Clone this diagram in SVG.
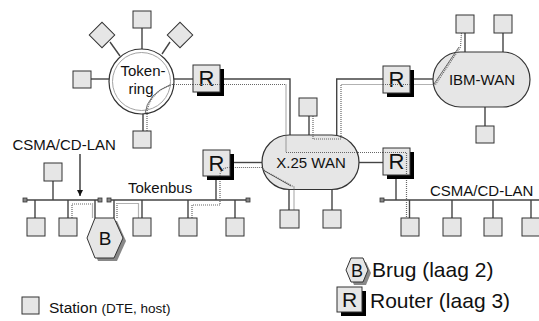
<svg xmlns="http://www.w3.org/2000/svg" width="539" height="321" viewBox="0 0 539 321">
<style>
text{font-family:"Liberation Sans",Arial,sans-serif;fill:#111}
.st{fill:#e6e6e6;stroke:#333;stroke-width:1}
.ln{stroke:#444;stroke-width:1.4;fill:none}
.dt{stroke:#666;stroke-width:1.2;stroke-dasharray:1 1;fill:none}
.thin{stroke:#444;stroke-width:0.8;fill:none}
.term{fill:#888;stroke:#333;stroke-width:0.8}
.sh{fill:#000}
.wan{fill:#e6e6e6;stroke:#333;stroke-width:1.2}
.lbl{font-size:15px}
.rt{font-size:22px;text-anchor:middle}
</style>
<defs>
<marker id="ah" viewBox="0 0 10 10" refX="10" refY="5" markerWidth="6" markerHeight="6" orient="auto" markerUnits="userSpaceOnUse"><path d="M0,0 L10,5 L0,10 z" fill="#111"/></marker>
</defs>

<g id="connectors">
<line class="ln" x1="142" y1="28" x2="142" y2="49"/>
<line class="ln" x1="91" y1="79" x2="109" y2="79"/>
<line class="ln" x1="110" y1="42" x2="120" y2="56"/>
<line class="ln" x1="170" y1="42" x2="162" y2="54"/>
<line class="ln" x1="143" y1="114" x2="143" y2="131"/>
<line class="ln" x1="174" y1="79" x2="193" y2="79"/>
<polyline class="ln" points="220,79 290,79 290,135"/>
<polyline class="ln" points="336.7,135.5 336.7,79 383,79"/>
<line class="ln" x1="410" y1="79" x2="433" y2="79"/>
<line class="ln" x1="465" y1="33" x2="465" y2="52"/>
<line class="ln" x1="503" y1="33" x2="503" y2="52"/>
<line class="ln" x1="485" y1="107" x2="485" y2="126"/>
<line class="ln" x1="309" y1="116" x2="309" y2="135"/>
<line class="ln" x1="289" y1="189" x2="289" y2="210"/>
<line class="ln" x1="332" y1="189" x2="332" y2="210"/>
<line class="ln" x1="359" y1="162.5" x2="383" y2="162.5"/>
<line class="ln" x1="230" y1="162.5" x2="262" y2="162.5"/>
<line class="ln" x1="216" y1="176" x2="216" y2="200"/>
<line class="ln" x1="396" y1="175" x2="396" y2="200"/>
<line class="ln" x1="25" y1="200" x2="100" y2="200"/>
<line class="ln" x1="109" y1="200" x2="248" y2="200"/>
<line class="ln" x1="382" y1="200" x2="539" y2="200"/>
<line class="ln" x1="53" y1="181" x2="53" y2="200"/>
<line class="ln" x1="35" y1="200" x2="35" y2="218"/>
<line class="ln" x1="68" y1="200" x2="68" y2="218"/>
<line class="ln" x1="95" y1="200" x2="95" y2="218"/>
<line class="ln" x1="114" y1="200" x2="114" y2="218"/>
<line class="ln" x1="142" y1="200" x2="142" y2="218"/>
<line class="ln" x1="188" y1="200" x2="188" y2="218"/>
<line class="ln" x1="235" y1="200" x2="235" y2="218"/>
<line class="ln" x1="409.5" y1="200" x2="409.5" y2="218"/>
<line class="ln" x1="452" y1="200" x2="452" y2="218"/>
<line class="ln" x1="493" y1="200" x2="493" y2="218"/>
<line class="ln" x1="531" y1="200" x2="531" y2="218"/>
<line x1="80" y1="154" x2="80" y2="196" stroke="#111" stroke-width="1.2" marker-end="url(#ah)"/>
</g>

<g id="nodes-shapes">
<g id="tokenring">
<circle cx="141.5" cy="81.5" r="32.5" fill="#fff" stroke="#333" stroke-width="1.2"/>
<circle cx="141.5" cy="81.5" r="29" fill="none" stroke="#999" stroke-width="0.9"/>
<text class="lbl" x="143" y="76" text-anchor="middle">Token-</text>
<text class="lbl" x="141" y="94" text-anchor="middle">ring</text>
</g>
<g id="x25wan">
<rect class="wan" x="262" y="135" width="97" height="54.5" rx="27.25"/>
<text class="lbl" x="311" y="168" text-anchor="middle">X.25 WAN</text>
</g>
<g id="ibmwan">
<rect class="wan" x="433" y="52" width="97" height="55" rx="27.5"/>
<text class="lbl" x="482" y="85" text-anchor="middle">IBM-WAN</text>
</g>
</g>

<g id="paths">
<path class="thin" d="M145,114 Q147,94 170,85"/>
<path class="dt" d="M147,131 L147,112 Q150,92 172,84.5"/>
<polyline class="dt" points="172,84.5 286,84.5 286,152.5 406.5,152.5 406.5,218"/>
<polyline class="dt" points="313,116 313,139 341,139 341,84.5 435.5,84.5 460.5,47 461.5,33"/>
<line class="thin" x1="434" y1="84" x2="459" y2="47"/>
<polyline class="dt" points="192,218 192,205 220,205 220,174"/>
<path class="dt" d="M220,174 Q222,167 230,167.5 L262,167.5 L265,171 L294,187 L294,210"/>
<line class="thin" x1="263" y1="170" x2="291" y2="186"/>
<polyline class="dt" points="72,218 72,204 92.5,204 92.5,218"/>
<polyline class="dt" points="117,218 117,203.5 138.5,203.5 138.5,218"/>
</g>

<g id="terminators">
<rect class="term" x="23" y="198" width="4" height="4"/>
<rect class="term" x="98" y="198" width="4" height="4"/>
<rect class="term" x="107" y="198" width="4" height="4"/>
<rect class="term" x="246" y="198" width="4" height="4"/>
<rect class="term" x="380" y="198" width="4" height="4"/>
</g>

<g id="stations">
<rect id="s-ring-top" class="st" x="133" y="11" width="18" height="17"/>
<rect id="s-ring-left" class="st" x="73" y="71" width="18" height="17"/>
<rect id="s-ring-bot" class="st" x="133" y="131" width="18" height="17"/>
<rect id="s-ring-dl" class="st" x="93" y="26" width="18" height="18" transform="rotate(45 102 35)"/>
<rect id="s-ring-dr" class="st" x="171" y="26" width="18" height="18" transform="rotate(45 180 35)"/>
<rect id="s-ibm1" class="st" x="456" y="15" width="18" height="18"/>
<rect id="s-ibm2" class="st" x="494" y="15" width="18" height="18"/>
<rect id="s-ibm3" class="st" x="476" y="126" width="18" height="17"/>
<rect id="s-x25-top" class="st" x="299" y="98" width="18" height="18"/>
<rect id="s-x25-b1" class="st" x="280" y="210" width="19" height="18"/>
<rect id="s-x25-b2" class="st" x="323" y="210" width="18" height="18"/>
<rect id="s-lan-top" class="st" x="44" y="163" width="18" height="18"/>
<rect id="s-lan1" class="st" x="27" y="218" width="18" height="18"/>
<rect id="s-lan2" class="st" x="59" y="218" width="18" height="18"/>
<rect id="s-tb1" class="st" x="133" y="218" width="18" height="18"/>
<rect id="s-tb2" class="st" x="179" y="218" width="18" height="18"/>
<rect id="s-tb3" class="st" x="226" y="218" width="18" height="18"/>
<rect id="s-rl1" class="st" x="401" y="218" width="18" height="18"/>
<rect id="s-rl2" class="st" x="443" y="218" width="18" height="18"/>
<rect id="s-rl3" class="st" x="484" y="218" width="18" height="18"/>
<rect id="s-rl4" class="st" x="522" y="218" width="18" height="18"/>
</g>

<g id="router-r1">
<rect class="sh" x="197" y="69" width="27" height="27"/>
<rect class="st" x="193" y="65" width="27" height="27"/>
<text class="rt" x="206.5" y="86">R</text>
<path class="dt" d="M193,84.5 L220,84.5"/>
</g>
<g id="router-r2">
<rect class="sh" x="387" y="70" width="27" height="27"/>
<rect class="st" x="383" y="66" width="27" height="27"/>
<text class="rt" x="396.5" y="87">R</text>
<path class="dt" d="M383,84.5 L410,84.5"/>
</g>
<g id="router-r3">
<rect class="sh" x="207" y="154" width="27" height="26"/>
<rect class="st" x="203" y="150" width="27" height="26"/>
<text class="rt" x="216.5" y="171">R</text>
<path class="dt" d="M220,176 L220,174 Q222,167 230,167.5"/>
</g>
<g id="router-r4">
<rect class="sh" x="387" y="152" width="27" height="27"/>
<rect class="st" x="383" y="148" width="27" height="27"/>
<text class="rt" x="396.5" y="169">R</text>
<path class="dt" d="M383,152.5 L406.5,152.5 L406.5,175"/>
</g>

<g id="bridge">
<polygon points="90,241 98,221 117,221 126,241 117,261 98,261" fill="#888"/>
<polygon class="st" points="87,238 95,218 114,218 123,238 114,258 95,258"/>
<text x="105" y="245" font-size="19" text-anchor="middle">B</text>
</g>

<g id="labels">
<text class="lbl" x="12.5" y="150">CSMA/CD-LAN</text>
<text class="lbl" x="128" y="193">Tokenbus</text>
<text class="lbl" x="430" y="196">CSMA/CD-LAN</text>
</g>

<g id="legend">
<rect class="st" x="22" y="297" width="17" height="17"/>
<text x="49" y="313" font-size="15.5">Station <tspan font-size="13.5">(DTE, host)</tspan></text>
<polygon points="349,273 354,262 366,262 371,273 366,285 354,285" fill="#888"/>
<polygon class="st" points="346,270 351,258 363,258 368,270 363,282 351,282"/>
<text x="357" y="277" font-size="18" text-anchor="middle">B</text>
<text x="372" y="277" font-size="21">Brug (laag 2)</text>
<rect class="sh" x="341" y="291" width="25" height="25"/>
<rect class="st" x="337" y="287" width="25" height="25"/>
<text x="349.5" y="307" font-size="21" text-anchor="middle">R</text>
<text x="370" y="308" font-size="21">Router (laag 3)</text>
</g>
</svg>
